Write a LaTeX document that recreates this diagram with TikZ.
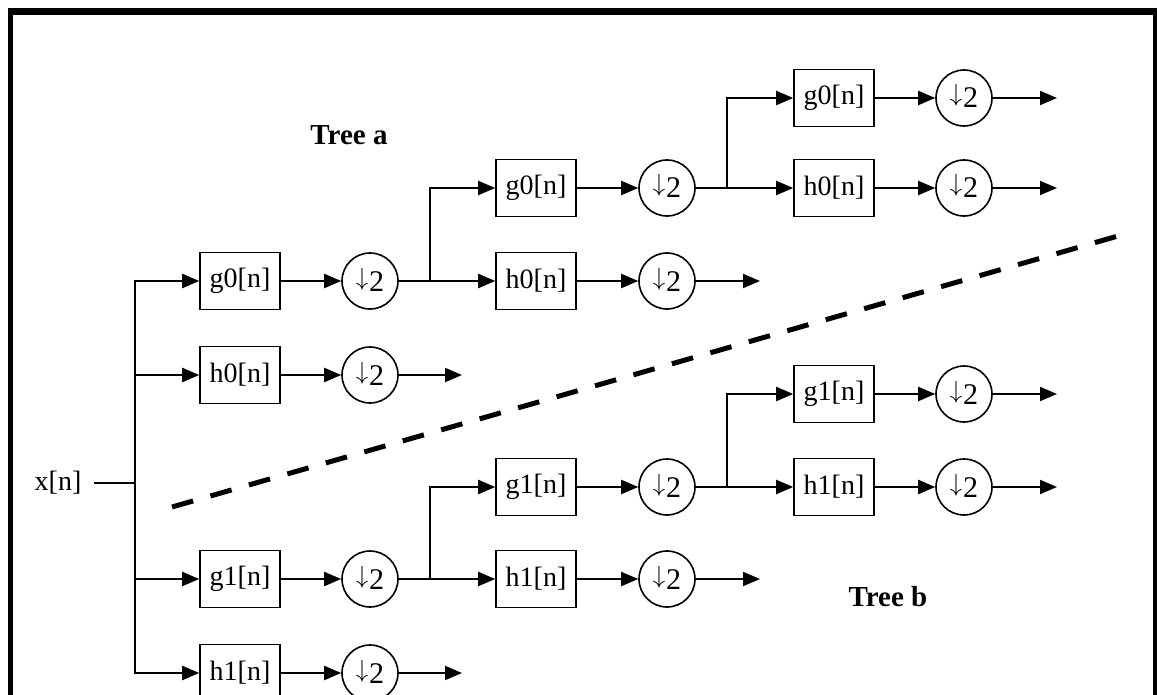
\documentclass[tikz,border=0pt]{standalone}
\usepackage{fontspec}
\setmainfont{Liberation Serif}
\usetikzlibrary{arrows.meta,positioning}
\newcommand{\dwnby}{\raisebox{6pt}[20pt][0pt]{\fontsize{26}{26}\selectfont\(\downarrow\)}\kern1pt2}

\begin{document}
\begin{tikzpicture}[x=1pt,y=-1pt,
        filt/.style={draw,line width=1.6pt,minimum width=80pt,minimum height=57pt,inner sep=0pt,font=\fontsize{28}{30}\selectfont},
        down/.style={draw,circle,line width=1.6pt,minimum size=56pt,inner sep=0pt,font=\fontsize{30}{32}\selectfont},
        lbl/.style={font=\fontsize{29}{31}\selectfont\bfseries},
        wire/.style={line width=2pt},
        sig/.style={line width=2pt,-{Triangle[length=17pt,width=14pt]}}]
        \useasboundingbox (0,0) rectangle (1157,695);
        \draw[line width=7pt] (10.5,11.5) -- (1155,11.5);
        \draw[line width=5pt] (10.5,8) -- (10.5,695);
        \draw[line width=4pt] (1155,8) -- (1155,695);
        \node[inner sep=12pt] (x) at (58,483) {\fontsize{28}{30}\selectfont x[n]};
        \coordinate (t) at (135,483);
        \node[filt] (g0) at (240,281) {g0[n]};
        \node[down] (dg0) at (370,281) {\dwnby};
        \node[filt] (h0) at (240,375) {h0[n]};
        \node[down] (dh0) at (370,375) {\dwnby};
        \coordinate (oh0) at (462,375);
        \node[filt] (g1) at (240,579) {g1[n]};
        \node[down] (dg1) at (370,579) {\dwnby};
        \node[filt] (h1) at (240,673) {h1[n]};
        \node[down] (dh1) at (370,673) {\dwnby};
        \coordinate (oh1) at (462,673);
        \coordinate (ja) at (430,281);
        \node[filt] (g0b) at (536,188) {g0[n]};
        \node[down] (dg0b) at (667,188) {\dwnby};
        \node[filt] (h0b) at (536,281) {h0[n]};
        \node[down] (dh0b) at (667,281) {\dwnby};
        \coordinate (oh0b) at (760,281);
        \coordinate (jb) at (727,188);
        \node[filt] (g0c) at (834,98) {g0[n]};
        \node[down] (dg0c) at (964,98) {\dwnby};
        \coordinate (og0c) at (1057,98);
        \node[filt] (h0c) at (834,188) {h0[n]};
        \node[down] (dh0c) at (964,188) {\dwnby};
        \coordinate (oh0c) at (1057,188);
        \coordinate (jc) at (430,579);
        \node[filt] (g1b) at (536,487) {g1[n]};
        \node[down] (dg1b) at (667,487) {\dwnby};
        \node[filt] (h1b) at (536,579) {h1[n]};
        \node[down] (dh1b) at (667,579) {\dwnby};
        \coordinate (oh1b) at (760,579);
        \coordinate (jd) at (727,487);
        \node[filt] (g1c) at (834,394) {g1[n]};
        \node[down] (dg1c) at (964,394) {\dwnby};
        \coordinate (og1c) at (1057,394);
        \node[filt] (h1c) at (834,487) {h1[n]};
        \node[down] (dh1c) at (964,487) {\dwnby};
        \coordinate (oh1c) at (1057,487);
        \node[lbl] (ta) at (349,135) {Tree a};
        \node[lbl] (tb) at (888,597) {Tree b};
        \coordinate (s1) at (172,507);
        \coordinate (s2) at (1118,236);
        \draw[wire] (x) -- (t);
        \draw[sig] (t) |- (g0);
        \draw[sig] (t) |- (h0);
        \draw[sig] (t) |- (g1);
        \draw[sig] (t) |- (h1);
        \draw[sig] (g0) -- (dg0);
        \draw[sig] (h0) -- (dh0);
        \draw[sig] (dh0) -- (oh0);
        \draw[sig] (g1) -- (dg1);
        \draw[sig] (h1) -- (dh1);
        \draw[sig] (dh1) -- (oh1);
        \draw[wire] (dg0) -- (ja);
        \draw[sig] (ja) |- (g0b);
        \draw[sig] (ja) -- (h0b);
        \draw[sig] (g0b) -- (dg0b);
        \draw[sig] (h0b) -- (dh0b);
        \draw[sig] (dh0b) -- (oh0b);
        \draw[wire] (dg0b) -- (jb);
        \draw[sig] (jb) |- (g0c);
        \draw[sig] (jb) -- (h0c);
        \draw[sig] (g0c) -- (dg0c);
        \draw[sig] (dg0c) -- (og0c);
        \draw[sig] (h0c) -- (dh0c);
        \draw[sig] (dh0c) -- (oh0c);
        \draw[wire] (dg1) -- (jc);
        \draw[sig] (jc) |- (g1b);
        \draw[sig] (jc) -- (h1b);
        \draw[sig] (g1b) -- (dg1b);
        \draw[sig] (h1b) -- (dh1b);
        \draw[sig] (dh1b) -- (oh1b);
        \draw[wire] (dg1b) -- (jd);
        \draw[sig] (jd) |- (g1c);
        \draw[sig] (jd) -- (h1c);
        \draw[sig] (g1c) -- (dg1c);
        \draw[sig] (dg1c) -- (og1c);
        \draw[sig] (h1c) -- (dh1c);
        \draw[sig] (dh1c) -- (oh1c);
        \draw[line width=5pt,dash pattern=on 22pt off 18pt] (s1) -- (s2);
    \end{tikzpicture}
\end{document}
